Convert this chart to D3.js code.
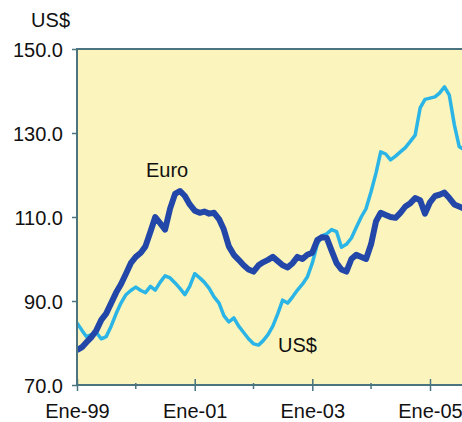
<!DOCTYPE html>
<html><head><meta charset="utf-8">
<script src="https://cdn.jsdelivr.net/npm/d3@7"></script>
<style>body{margin:0;background:#fff}svg{display:block}text{font-family:"Liberation Sans",Arial,Helvetica,sans-serif;fill:#111}</style>
</head><body>
<script>
const startMonth = "1999-01";
const euro = [78.3,79.0,80.2,81.4,83.0,85.5,87.0,89.5,92.0,94.0,96.5,99.0,
100.5,101.5,103.0,106.5,110.0,108.5,107.0,112.0,115.5,116.2,115.0,113.0,
111.5,111.0,111.3,110.8,111.0,109.5,107.0,103.0,101.0,99.8,98.5,97.5,
97.0,98.5,99.2,99.8,100.5,99.5,98.5,98.0,99.0,100.5,100.0,101.0,
101.5,104.5,105.2,105.0,102.0,99.0,97.5,97.0,100.0,101.0,100.5,100.0,
103.5,109.0,111.0,110.5,110.0,109.8,111.0,112.5,113.3,114.5,114.0,110.8,
113.5,115.0,115.3,115.8,114.5,113.0,112.5,112.0];
const usd = [84.8,83.0,81.5,82.0,82.5,81.0,81.5,84.0,87.0,89.5,91.5,92.5,
93.3,92.5,92.0,93.5,92.6,94.5,96.0,95.5,94.3,93.0,91.5,93.5,
96.5,95.5,94.5,93.0,91.0,89.5,86.5,85.0,86.0,84.0,82.5,81.0,
79.8,79.5,80.5,82.0,84.0,87.0,90.2,89.5,91.0,92.6,94.0,95.7,
99.0,103.5,105.5,106.0,107.0,106.5,102.8,103.5,105.0,107.5,110.0,112.0,
116.0,120.5,125.5,125.0,123.6,124.5,125.5,126.5,128.0,129.5,136.0,138.0,
138.3,138.6,139.5,141.0,139.0,132.0,126.8,126.0];
const yTicks = [70,90,110,130,150];
const xTickMonths = ["1999-01","2001-01","2003-01","2005-01"];
const xTickLabels = ["Ene-99","Ene-01","Ene-03","Ene-05"];
const xMinorMonths = ["2000-01","2002-01","2004-01","2006-01"];
const seriesNames = ["Euro","US$"];
const unitLabel = "US$";

const W=462,H=422;
const L=77,T=49,B=385;
const parse = d3.timeParse("%Y-%m");
const start = parse(startMonth);
const dates = euro.map((_,i)=>d3.timeMonth.offset(start,i));
const x = d3.scaleTime().domain([parse("1999-01"),parse("2005-01")]).range([L,430]);
const y = d3.scaleLinear().domain([70,150]).range([B,T]);

const svg = d3.select("body").append("svg").attr("width",W).attr("height",H);
svg.append("defs").append("clipPath").attr("id","clip").append("rect")
  .attr("x",L).attr("y",T).attr("width",W-L+10).attr("height",B-T);
svg.append("rect").attr("x",L).attr("y",T).attr("width",W-L+10).attr("height",B-T).attr("fill","#fbf5bd");

const line = d3.line().x((d,i)=>x(dates[i])).y(d=>y(d));
const g = svg.append("g").attr("clip-path","url(#clip)");
g.append("path").datum(usd).attr("d",line).attr("fill","none").attr("stroke","#2bb4e6").attr("stroke-width",3.5).attr("stroke-linejoin","round");
g.append("path").datum(euro).attr("d",line).attr("fill","none").attr("stroke","#2247a8").attr("stroke-width",6).attr("stroke-linejoin","round");

const axisCol="#4b7480";
svg.append("line").attr("x1",L).attr("x2",W+5).attr("y1",T).attr("y2",T).attr("stroke",axisCol).attr("stroke-width",2);
svg.append("line").attr("x1",L).attr("x2",W+5).attr("y1",B).attr("y2",B).attr("stroke",axisCol).attr("stroke-width",2);
svg.append("line").attr("x1",L).attr("x2",L).attr("y1",T-1).attr("y2",B+1).attr("stroke",axisCol).attr("stroke-width",2);

const yAxis = d3.axisLeft(y).tickValues(yTicks).tickFormat(d3.format(".1f")).tickSize(5).tickPadding(9);
const ya = svg.append("g").attr("transform",`translate(${L},0)`).call(yAxis);
ya.select(".domain").remove();
ya.selectAll(".tick line").attr("stroke",axisCol).attr("stroke-width",1.5);
ya.selectAll(".tick text").attr("font-size",20).attr("fill","#111").attr("dy","0.36em");

const majors = xTickMonths.map(parse);
const minors = xMinorMonths.map(parse);
const xa = svg.append("g").attr("transform",`translate(0,${B})`);
xa.call(d3.axisBottom(x).tickValues(majors).tickFormat((d,i)=>xTickLabels[i]).tickSize(6));
xa.select(".domain").remove();
xa.selectAll(".tick line").attr("stroke",axisCol).attr("stroke-width",1.5).attr("y1",-6);
xa.selectAll(".tick text").attr("font-size",20).attr("fill","#111").attr("y",33).attr("dy",0);
xa.selectAll(".minor").data(minors).enter().append("line").attr("class","minor")
  .attr("x1",d=>x(d)).attr("x2",d=>x(d)).attr("y1",-2).attr("y2",4).attr("stroke",axisCol).attr("stroke-width",1.5);

svg.append("text").attr("x",70).attr("y",27).attr("text-anchor","end").attr("font-size",20).text(unitLabel);
svg.append("text").attr("x",146).attr("y",177).attr("font-size",20).text(seriesNames[0]);
svg.append("text").attr("x",278).attr("y",352).attr("font-size",20).text(seriesNames[1]);
</script>
</body></html>
